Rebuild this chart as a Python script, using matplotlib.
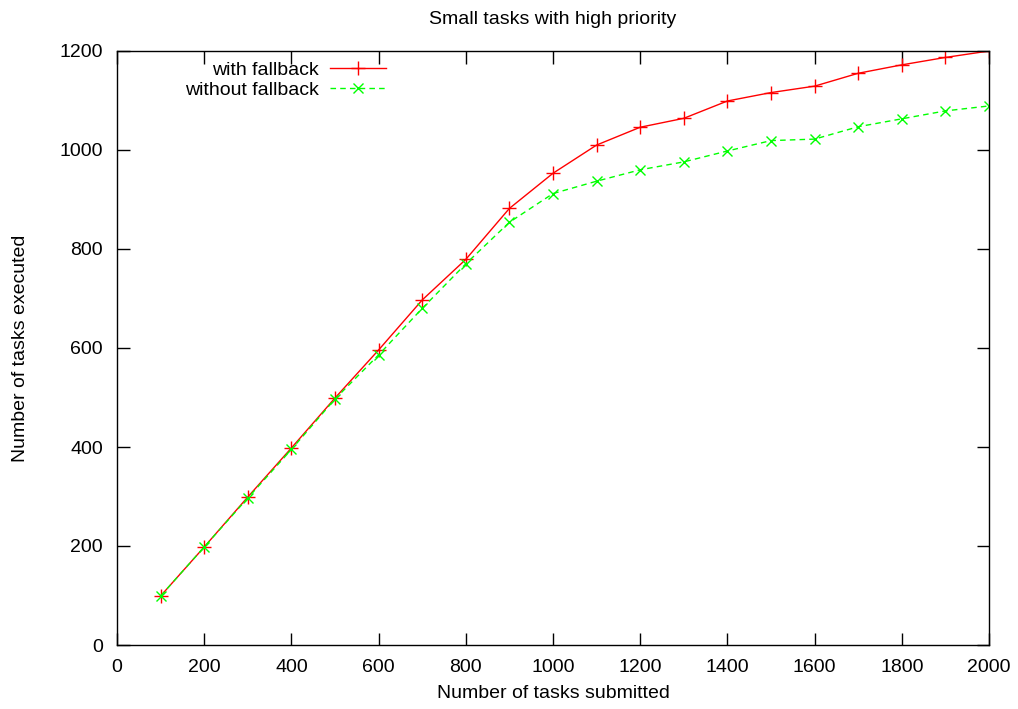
import matplotlib
matplotlib.use("Agg")
import matplotlib.pyplot as plt

submitted = [100, 200, 300, 400, 500, 600, 700, 800, 900, 1000,
             1100, 1200, 1300, 1400, 1500, 1600, 1700, 1800, 1900, 2000]
with_fallback = [99, 198, 299, 398, 499, 596, 697, 779, 882, 953,
                 1010, 1046, 1064, 1099, 1116, 1129, 1155, 1172, 1187, 1200]
without_fallback = [99, 198, 297, 395, 497, 586, 680, 770, 854, 912,
                    937, 960, 976, 998, 1019, 1022, 1047, 1063, 1079, 1089]

xticks = list(range(0, 2001, 200))
yticks = list(range(0, 1201, 200))

plt.rcParams['font.family'] = ['Liberation Sans', 'DejaVu Sans']
FS = 14

W, H = 1018, 709
L, R, T, B = 117, 989, 51, 645
fig = plt.figure(figsize=(W/100, H/100), dpi=100)
ax = fig.add_axes([L/W, 1-B/H, (R-L)/W, (B-T)/H])

ax.plot(submitted, with_fallback, color='#ff0000', lw=1.0, marker='+',
        ms=10, mew=1.0, label='with fallback')
ax.plot(submitted, without_fallback, color='#00ff00', lw=1.0, ls=(0, (4, 3)),
        marker='x', ms=7.5, mew=1.0, label='without fallback')

ax.set_xlim(0, 2000)
ax.set_ylim(0, 1200)
ax.set_xticks(xticks)
ax.set_yticks(yticks)
ax.tick_params(direction='in', length=9, width=1, top=True, right=True,
               labelsize=FS)
ax.tick_params(axis='x', pad=10)
ax.tick_params(axis='y', pad=10)
for s in ax.spines.values():
    s.set_linewidth(1.0)

ax.set_title('Small tasks with high priority', fontsize=FS,
             y=1 + (T-20)/(B-T), va='center', pad=0)
ax.set_xlabel('Number of tasks submitted', fontsize=FS)
ax.xaxis.set_label_coords(0.5, -(694-B)/(B-T))
ax.xaxis.label.set_va('center')
ax.set_ylabel('Number of tasks executed', fontsize=FS)
ax.yaxis.set_label_coords(-(L-21)/(R-L), 0.5)
ax.yaxis.label.set_va('center')

ax.legend(loc='upper right',
          bbox_to_anchor=((386-L)/(R-L), 1 - (61-T)/(B-T)),
          frameon=False, markerfirst=False, handlelength=2.9,
          handletextpad=0.57, labelspacing=0.15, borderaxespad=0,
          borderpad=0, fontsize=FS)

fig.savefig('out.png', dpi=100)
